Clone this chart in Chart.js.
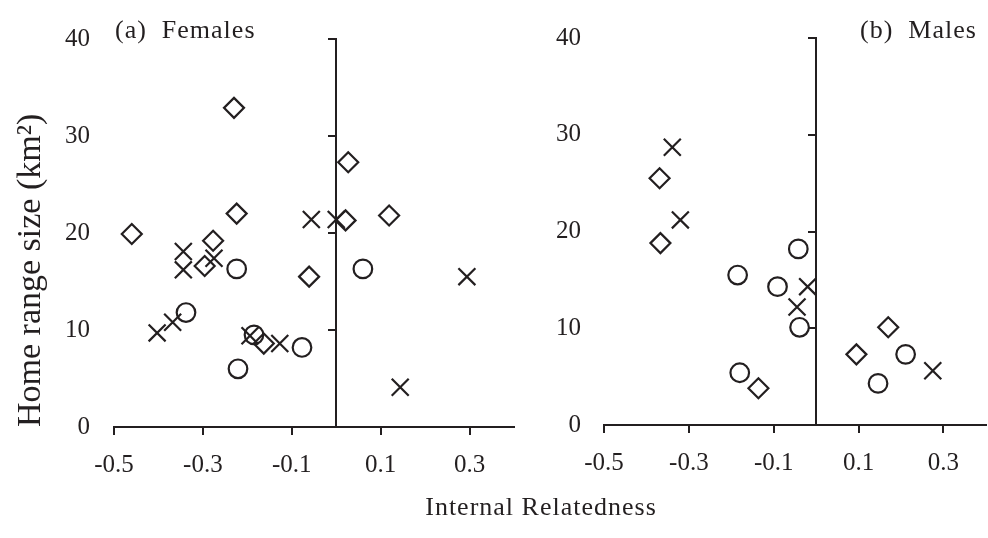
<!DOCTYPE html>
<html>
<head>
<meta charset="utf-8">
<script src="https://cdn.jsdelivr.net/npm/chart.js@4"></script>
<style>
  html, body { margin: 0; padding: 0; background: #fff; overflow: hidden; }
  #wrap { position: relative; width: 988px; height: 538px; overflow: hidden; }
  #wrap canvas { position: absolute; top: 0; }
  .lbl { position: absolute; font-family: "Liberation Serif", "Times New Roman", serif; color: #231f20; white-space: pre; line-height: 1; }
</style>
</head>
<body>
<div id="wrap">
  <canvas id="females" width="530" height="538" style="left:0px"></canvas>
  <canvas id="males" width="456" height="538" style="left:544px"></canvas>
  <div class="lbl" style="left:115px; top:17px; font-size:26px; letter-spacing:1px;">(a)  Females</div>
  <div class="lbl" style="left:860px; top:17px; font-size:26px; letter-spacing:1px;">(b)  Males</div>
  <div class="lbl" style="left:341px; width:400px; text-align:center; top:494px; font-size:26px; letter-spacing:1px;">Internal Relatedness</div>
</div>
<script>
// tick labels
const xTickValues = [-0.5, -0.3, -0.1, 0.1, 0.3];
const yTickValues = [0, 10, 20, 30, 40];

// (a) females - internal relatedness (x) vs home range size km2 (y)
const femDiamondX = [-0.46, -0.23, -0.224, -0.277, -0.296, -0.163, -0.061, 0.027, 0.021, 0.119];
const femDiamondY = [19.9, 32.9, 22.0, 19.2, 16.6, 8.6, 15.5, 27.3, 21.3, 21.8];
const femCircleX = [-0.224, -0.338, -0.185, -0.077, -0.221, 0.060];
const femCircleY = [16.3, 11.8, 9.5, 8.2, 6.0, 16.3];
const femCrossX = [-0.344, -0.344, -0.275, -0.368, -0.403, -0.194, -0.127, -0.056, 0.0, 0.294, 0.144];
const femCrossY = [18.1, 16.2, 17.4, 10.8, 9.7, 9.4, 8.6, 21.4, 21.4, 15.5, 4.1];

// (b) males
const maleDiamondX = [-0.369, -0.367, -0.136, 0.170, 0.095];
const maleDiamondY = [25.5, 18.8, 3.8, 10.1, 7.3];
const maleCircleX = [-0.042, -0.185, -0.091, -0.039, -0.180, 0.211, 0.146];
const maleCircleY = [18.2, 15.5, 14.3, 10.1, 5.4, 7.3, 4.3];
const maleCrossX = [-0.339, -0.320, -0.020, -0.045, 0.275];
const maleCrossY = [28.7, 21.2, 14.3, 12.2, 5.6];

const ink = '#231f20';
Chart.defaults.font.family = '"Liberation Serif", "Times New Roman", serif';
Chart.defaults.color = ink;

function points(xs, ys) {
  return xs.map((x, i) => ({ x: x, y: ys[i] }));
}

// one marker type = one dataset
function markerSet(label, xs, ys, style, radius) {
  return {
    label: label,
    data: points(xs, ys),
    pointStyle: style,
    pointRadius: radius,
    pointHoverRadius: radius,
    borderColor: ink,
    pointBorderColor: ink,
    backgroundColor: 'rgba(0,0,0,0)',
    pointBackgroundColor: 'rgba(0,0,0,0)',
    borderWidth: 2.2,
    pointBorderWidth: 2.2,
    showLine: false
  };
}

function drawPanel(id, sets, cfg) {
  new Chart(document.getElementById(id), {
    type: 'scatter',
    data: { datasets: sets },
    options: {
      responsive: false,
      animation: false,
      layout: { padding: cfg.padding },
      plugins: { legend: { display: false }, tooltip: { enabled: false } },
      scales: {
        x: {
          type: 'linear', min: -0.5, max: 0.4,
          afterBuildTicks: s => { s.ticks = xTickValues.map(v => ({ value: v })); },
          afterFit: s => { s.height = cfg.xAxisHeight; },
          ticks: { font: { size: 25 }, padding: 15, maxRotation: 0, callback: v => v.toFixed(1) },
          grid: { drawOnChartArea: false, drawTicks: true, tickLength: 8, color: ink, lineWidth: 2 },
          border: { display: true, color: ink, width: 2 }
        },
        // tick labels sit at the left edge, as in the original
        y: {
          type: 'linear', position: 'left', min: 0, max: 40,
          afterBuildTicks: s => { s.ticks = yTickValues.map(v => ({ value: v })); },
          afterFit: s => { s.width = cfg.labelWidth; },
          ticks: { font: { size: 25 }, padding: cfg.labelPad, callback: v => String(v) },
          grid: { display: false, drawTicks: false },
          border: { display: false },
          title: cfg.yTitle ? {
            display: true, text: cfg.yTitle, align: 'start',
            font: { size: 34 }, padding: { top: 11, bottom: 0 }, color: ink
          } : { display: false }
        },
        // the axis line itself crosses at x = 0
        yLine: {
          type: 'linear', axis: 'y', position: { x: 0 }, min: 0, max: 40,
          afterBuildTicks: s => { s.ticks = yTickValues.map(v => ({ value: v })); },
          ticks: { display: false },
          grid: { drawOnChartArea: false, drawTicks: true, tickLength: 7, color: ink, lineWidth: 2 },
          border: { display: true, color: ink, width: 2 }
        }
      }
    }
  });
}

drawPanel('females', [
  markerSet('diamond', femDiamondX, femDiamondY, 'rectRot', 10),
  markerSet('circle', femCircleX, femCircleY, 'circle', 9.3),
  markerSet('cross', femCrossX, femCrossY, 'crossRot', 12)
], {
  padding: { top: 21, left: 0, right: 16, bottom: 0 },
  labelWidth: 114, labelPad: 24, xAxisHeight: 111,
  yTitle: 'Home range size (km²)'
});

drawPanel('males', [
  markerSet('diamond', maleDiamondX, maleDiamondY, 'rectRot', 10),
  markerSet('circle', maleCircleX, maleCircleY, 'circle', 9.3),
  markerSet('cross', maleCrossX, maleCrossY, 'crossRot', 12)
], {
  padding: { top: 22, left: 0, right: 0, bottom: 0 },
  labelWidth: 60, labelPad: 23, xAxisHeight: 113,
  yTitle: null
});
</script>
</body>
</html>
